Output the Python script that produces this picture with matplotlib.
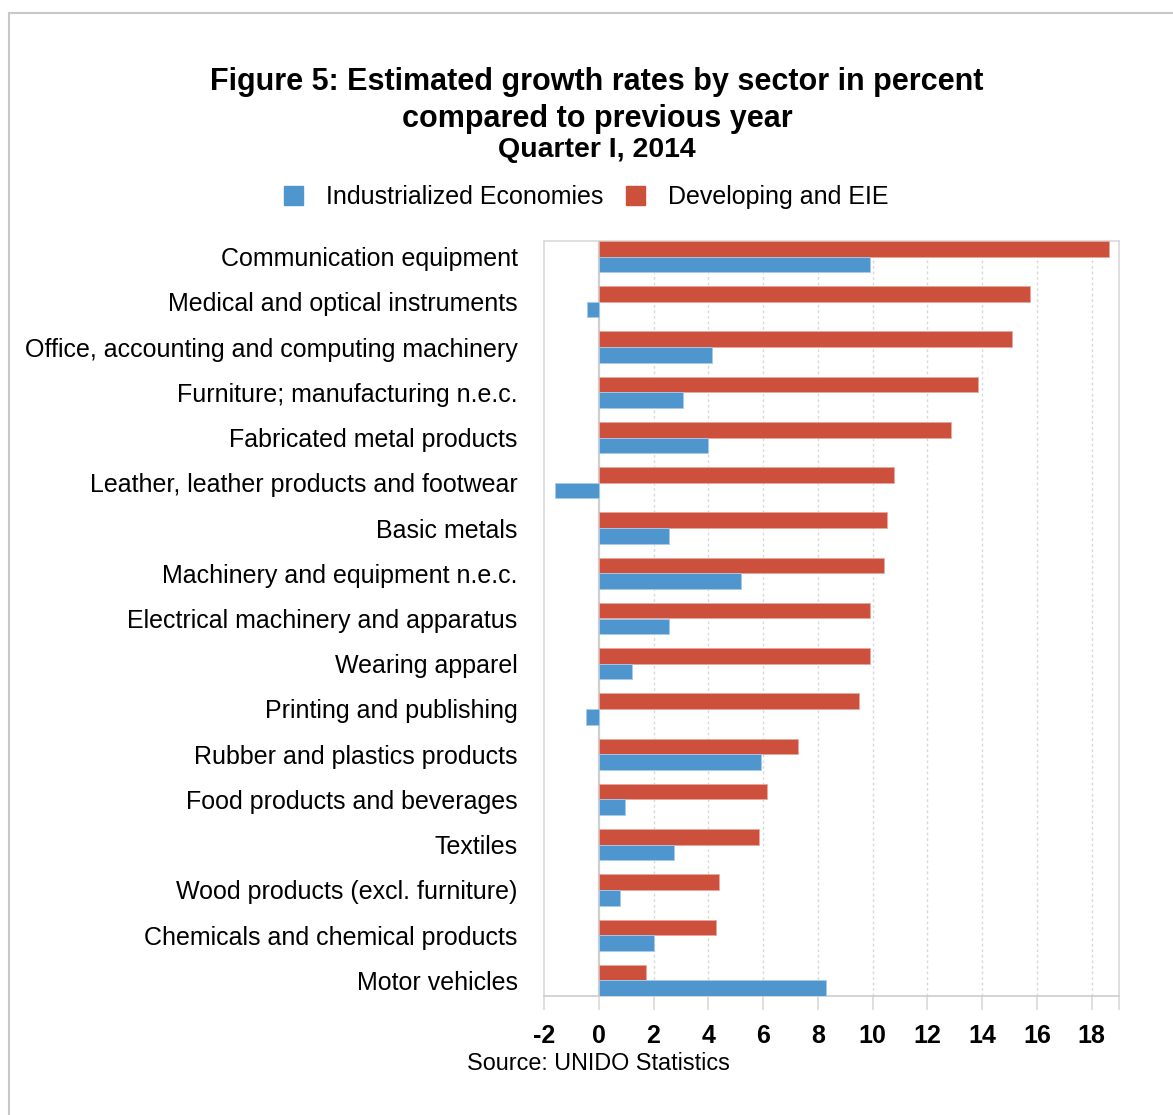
import matplotlib.pyplot as plt
import numpy as np
from matplotlib.patches import Patch, Rectangle

plt.rcParams['font.family'] = ['Liberation Sans', 'DejaVu Sans']

categories = [
    "Communication equipment",
    "Medical and optical instruments",
    "Office, accounting and computing machinery",
    "Furniture; manufacturing n.e.c.",
    "Fabricated metal products",
    "Leather, leather products and footwear",
    "Basic metals",
    "Machinery and equipment n.e.c.",
    "Electrical machinery and apparatus",
    "Wearing apparel",
    "Printing and publishing",
    "Rubber and plastics products",
    "Food products and beverages",
    "Textiles",
    "Wood products (excl. furniture)",
    "Chemicals and chemical products",
    "Motor vehicles",
]
industrialized = [9.90, -0.42, 4.15, 3.06, 4.00, -1.59, 2.56, 5.19, 2.56, 1.23,
                  -0.48, 5.92, 0.97, 2.74, 0.77, 2.00, 8.29]
developing = [18.63, 15.76, 15.10, 13.86, 12.87, 10.77, 10.53, 10.41, 9.92, 9.90,
              9.50, 7.27, 6.14, 5.85, 4.38, 4.29, 1.73]
series_names = ["Industrialized Economies", "Developing and EIE"]
x_ticks = list(range(-2, 19, 2))

BLUE = "#4F95CE"
RED = "#CD503C"
GRID = "#d9d9d9"

W, H = 1173, 1115
fig = plt.figure(figsize=(W / 100, H / 100), dpi=100)
ax = fig.add_axes([544 / W, 1 - 996 / H, (1119 - 544) / W, (996 - 241) / H])

bar_h = 0.345
y = np.arange(len(categories))
ax.barh(y - bar_h / 2, developing, height=bar_h, color=RED,
        edgecolor="#e8a89e", linewidth=0.6, zorder=3)
ax.barh(y + bar_h / 2, industrialized, height=bar_h, color=BLUE,
        edgecolor="#a9cbea", linewidth=0.6, zorder=3)

ax.set_xlim(-2, 19)
ax.set_ylim(len(categories) - 1 + bar_h, -bar_h)

# dashed vertical gridlines, solid line for the zero axis
for t in x_ticks[2:]:
    ax.axvline(t, color=GRID, lw=1, ls=(0, (2, 2)), zorder=1)
ax.axvline(0, color="#cfcfcf", lw=1.6, zorder=2)

ax.set_xticks(x_ticks + [19])
ax.set_xticklabels([str(t) for t in x_ticks] + [""], fontsize=18, fontweight="bold")
ax.tick_params(axis="x", length=10, width=1.2, color=GRID, pad=10)
ax.set_yticks(y)
ax.set_yticklabels(categories, fontsize=18)
ax.tick_params(axis="y", length=0, pad=19)

for side in ax.spines.values():
    side.set_color(GRID)
    side.set_linewidth(1.2)
ax.spines["bottom"].set_color("#cccccc")

cx = 597 / W
fig.text(cx, 1 - 82 / H, "Figure 5: Estimated growth rates by sector in percent",
         ha="center", va="center", fontsize=22, fontweight="bold")
fig.text(cx, 1 - 119 / H, "compared to previous year",
         ha="center", va="center", fontsize=22, fontweight="bold")
fig.text(cx, 1 - 150 / H, "Quarter I, 2014",
         ha="center", va="center", fontsize=20.5, fontweight="bold")
fig.text(598 / W, 1 - 1064 / H, "Source: UNIDO Statistics",
         ha="center", va="center", fontsize=16.8)

handles = [Patch(color=BLUE), Patch(color=RED)]
fig.legend(handles, series_names, loc="center", bbox_to_anchor=(586 / W, 1 - 197 / H),
           ncol=2, frameon=False, fontsize=18, handlelength=0.76, handleheight=0.76,
           handletextpad=0.92, columnspacing=0.92)

# outer frame, only the left and top edges fall inside the canvas
fig.patches.append(Rectangle((9 / W, -0.1), 1.2, 1.1 - 13 / H, transform=fig.transFigure,
                             fill=False, edgecolor="#c8c8c8", lw=1.5))

fig.savefig("out.png", dpi=100)
